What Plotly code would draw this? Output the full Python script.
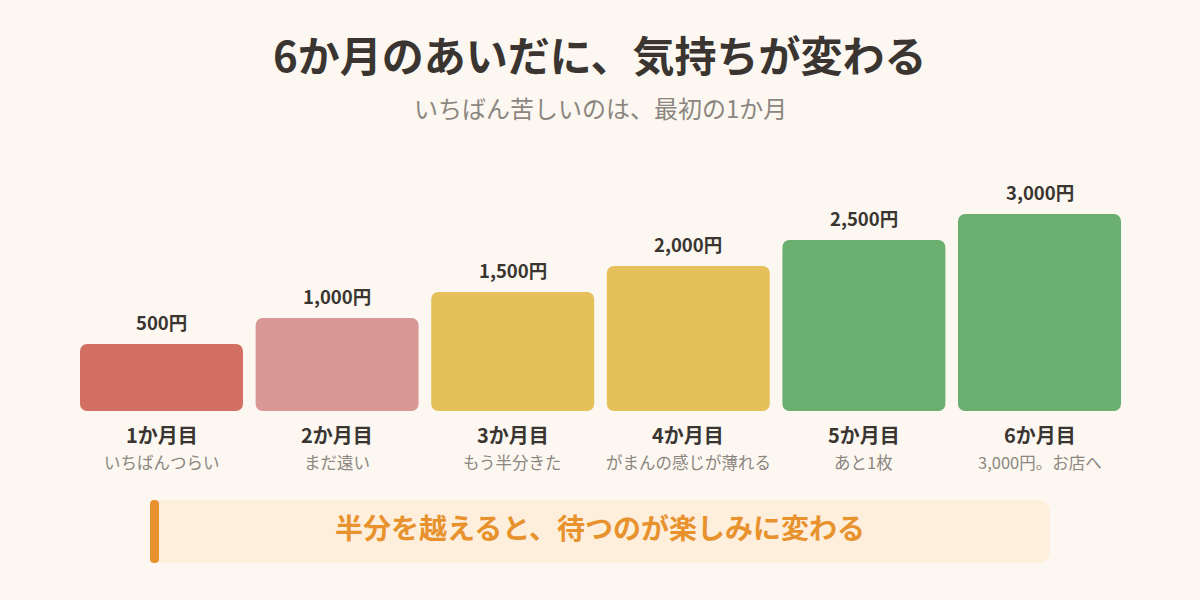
import plotly.graph_objects as go

# ---- data ----
months = ["1か月目", "2か月目", "3か月目", "4か月目", "5か月目", "6か月目"]
notes = ["いちばんつらい", "まだ遠い", "もう半分きた", "がまんの感じが薄れる", "あと1枚", "3,000円。お店へ"]
amounts = [500, 1000, 1500, 2000, 2500, 3000]
value_labels = ["500円", "1,000円", "1,500円", "2,000円", "2,500円", "3,000円"]
bar_colors = ["#D27063", "#D99796", "#E6C05A", "#E6C05A", "#6AAE70", "#6AAE70"]

title = "6か月のあいだに、気持ちが変わる"
subtitle = "いちばん苦しいのは、最初の1か月"
callout = "半分を越えると、待つのが楽しみに変わる"

W, H = 1200, 600
BG = "#FCF8F1"
FONT = "Noto Sans CJK JP"
DARK = "#3A3531"
GRAY = "#8C8680"

# axis scale (bars start from a floor below zero so small values stay visible)
Y_BASE = -788.5
Y_TOP = 3846
X_DOM = [73.7 / W, 1127.3 / W]
Y_DOM = [1 - 411 / H, 1 - 170 / H]

def py(p):
    return 1 - p / H

def px(p):
    return p / W

fig = go.Figure()

fig.add_trace(go.Bar(
    x=months, y=[v - Y_BASE for v in amounts], base=[Y_BASE] * len(amounts),
    marker=dict(color=bar_colors, line=dict(width=0)), hoverinfo="skip",
))

annotations = []
for m, v, lab, note in zip(months, amounts, value_labels, notes):
    annotations.append(dict(
        x=m, y=v, xref="x", yref="y", text=f"<b>{lab}</b>", showarrow=False,
        yanchor="bottom", yshift=7, font=dict(family=FONT, size=18.5, color=DARK),
    ))
    annotations.append(dict(
        x=m, y=py(434), xref="x", yref="paper", text=f"<b>{m}</b>", showarrow=False,
        yanchor="middle", font=dict(family=FONT, size=20, color=DARK),
    ))
    annotations.append(dict(
        x=m, y=py(462), xref="x", yref="paper", text=note, showarrow=False,
        yanchor="middle", font=dict(family=FONT, size=16.5, color=GRAY),
    ))

annotations.append(dict(
    x=0.5, y=py(53), xref="paper", yref="paper", text=f"<b>{title}</b>", showarrow=False,
    yanchor="middle", font=dict(family=FONT, size=42, color=DARK),
))
annotations.append(dict(
    x=0.5, y=py(107), xref="paper", yref="paper", text=subtitle, showarrow=False,
    yanchor="middle", font=dict(family=FONT, size=24, color=GRAY),
))
annotations.append(dict(
    x=px(600), y=py(527), xref="paper", yref="paper", text=f"<b>{callout}</b>", showarrow=False,
    yanchor="middle", font=dict(family=FONT, size=28, color="#E8922E"),
))

def rounded_rect(x0, y0, x1, y1, r):
    pts = [
        f"M {px(x0 + r)} {py(y0)}",
        f"L {px(x1 - r)} {py(y0)}",
        f"Q {px(x1)} {py(y0)} {px(x1)} {py(y0 + r)}",
        f"L {px(x1)} {py(y1 - r)}",
        f"Q {px(x1)} {py(y1)} {px(x1 - r)} {py(y1)}",
        f"L {px(x0 + r)} {py(y1)}",
        f"Q {px(x0)} {py(y1)} {px(x0)} {py(y1 - r)}",
        f"L {px(x0)} {py(y0 + r)}",
        f"Q {px(x0)} {py(y0)} {px(x0 + r)} {py(y0)}",
        "Z",
    ]
    return " ".join(pts)

shapes = [
    dict(type="path", xref="paper", yref="paper", path=rounded_rect(150, 500, 1050, 563, 13),
         fillcolor="#FDEFDC", line=dict(width=0), layer="below"),
    dict(type="path", xref="paper", yref="paper", path=rounded_rect(150, 500, 159, 563, 4),
         fillcolor="#E8922E", line=dict(width=0), layer="below"),
]

fig.update_layout(
    width=W, height=H, autosize=False,
    margin=dict(l=0, r=0, t=0, b=0),
    paper_bgcolor=BG, plot_bgcolor=BG,
    barmode="overlay", bargap=0.072, barcornerradius=7,
    showlegend=False,
    xaxis=dict(domain=X_DOM, showticklabels=False, showgrid=False, zeroline=False,
               showline=False, ticks="", fixedrange=True),
    yaxis=dict(domain=Y_DOM, range=[Y_BASE, Y_TOP], showticklabels=False, showgrid=False,
               zeroline=False, showline=False, ticks="", fixedrange=True),
    annotations=annotations,
    shapes=shapes,
    font=dict(family=FONT),
)

fig.write_html(
    "out.html",
    config={"displayModeBar": False},
    post_script="document.body.style.margin='0';document.body.style.background='" + BG + "';",
)
